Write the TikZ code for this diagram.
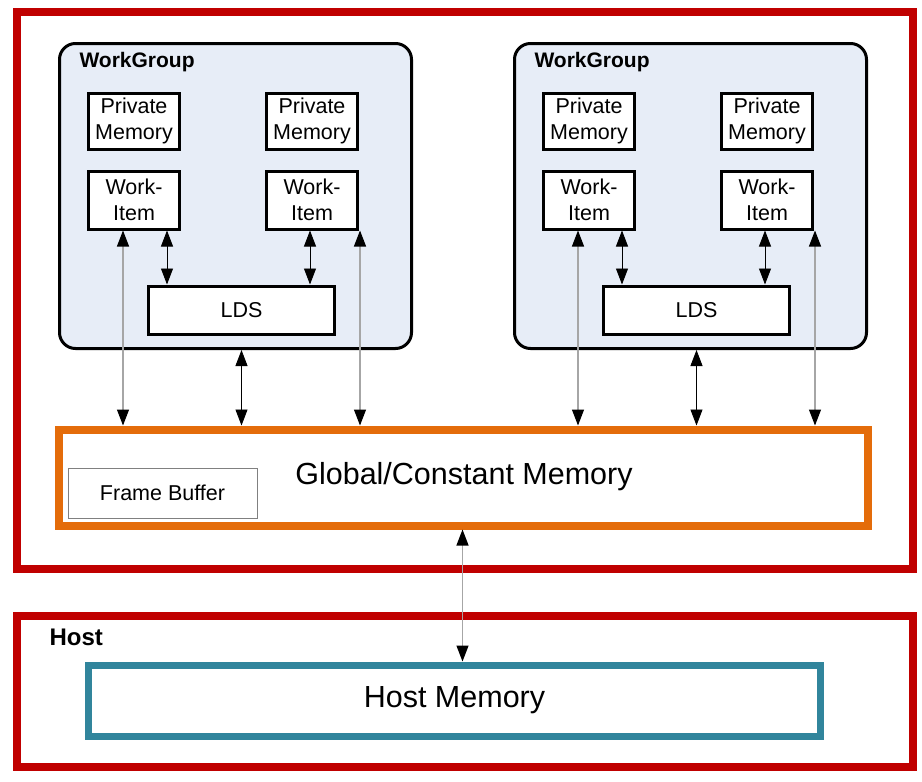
\documentclass[tikz,border=0pt]{standalone}
\usepackage{fontspec}
\setmainfont{Liberation Sans}
\usepackage{tikz}
\usetikzlibrary{arrows.meta,positioning,calc}

\definecolor{devred}{HTML}{C00000}
\definecolor{globorange}{HTML}{E46C0A}
\definecolor{hostteal}{HTML}{31859C}
\definecolor{wgblue}{HTML}{E7EDF7}
\definecolor{linkgray}{HTML}{A6A6A6}

\tikzset{
  membox/.style={draw, line width=3pt, fill=white, inner sep=0pt,
    minimum width=91pt, minimum height=56pt, align=center,
    font=\fontsize{21.5}{26}\selectfont},
  wgbox/.style={draw, line width=3pt, fill=wgblue, rounded corners=16pt, inner sep=0pt,
    minimum width=352pt, minimum height=305pt},
  ldsbox/.style={draw, line width=3pt, fill=white, inner sep=0pt,
    minimum width=186pt, minimum height=48pt, font=\fontsize{21.5}{26}\selectfont},
  wglabel/.style={anchor=west, font=\fontsize{21}{26}\selectfont\bfseries},
  tip/.tip={Triangle[black, length=16pt, width=12pt]},
  near/.style={tip-tip, black, line width=0.9pt},
  far/.style={tip-tip, linkgray, line width=1.2pt}
}

\begin{document}
\begin{tikzpicture}[x=1pt, y=-1pt]
  \useasboundingbox (0,0) rectangle (922,782);
  % device and host frames
  \draw[devred, line width=8pt] (17,12) rectangle (913,569);
  \draw[devred, line width=8pt] (17,616) rectangle (913,767);
  \node[wglabel, font=\fontsize{24}{28}\selectfont\bfseries] (hostlbl) at (46,637) {Host};

  % global memory
  \node[draw=globorange, line width=8pt, fill=white, minimum width=809pt, minimum height=96pt,
    inner sep=0pt] (glob) at (463.5,477.5) {};
  \node[font=\fontsize{30.5}{36}\selectfont] (globtxt) at (464,477) {Global/Constant Memory};
  \node[draw=gray, line width=0.8pt, minimum width=189pt, minimum height=50pt, inner sep=0pt,
    font=\fontsize{21.5}{26}\selectfont] (fb) at (162.5,493) {Frame Buffer};

  % host memory
  \node[draw=hostteal, line width=7pt, minimum width=732pt, minimum height=71pt, inner sep=0pt,
    font=\fontsize{30.5}{36}\selectfont] (hostmem) at (454.5,700.5) {Host Memory};

  % work groups
  \foreach \g/\x in {a/0, b/455} {
    \node[wgbox] (wg\g) at ({235.5+\x},196) {};
    \node[wglabel] (wgl\g) at ({76+\x},62) {WorkGroup};
    \node[membox] (pm\g1) at ({134+\x},121) {Private\\Memory};
    \node[membox] (pm\g2) at ({312+\x},121) {Private\\Memory};
    \node[membox, minimum height=58pt] (wi\g1) at ({134+\x},200) {Work-\\Item};
    \node[membox, minimum height=58pt] (wi\g2) at ({312+\x},200) {Work-\\Item};
    \node[ldsbox] (lds\g) at ({241.5+\x},310) {LDS};
    % work-item <-> lds
    \draw[near] ([xshift=33pt]wi\g1.south) -- ([xshift=33pt]wi\g1.south |- lds\g.north);
    \draw[near] ([xshift=-2pt]wi\g2.south) -- ([xshift=-2pt]wi\g2.south |- lds\g.north);
    % work-item <-> global
    \draw[far] ([xshift=-11pt]wi\g1.south) -- ([xshift=-11pt]wi\g1.south |- glob.north);
    \draw[far] ([xshift=48pt]wi\g2.south) -- ([xshift=48pt]wi\g2.south |- glob.north);
    % work group <-> global
    \draw[near] (lds\g.south |- wg\g.south) -- (lds\g.south |- glob.north);
  }

  % global <-> host
  \draw[far] ([xshift=-1pt]glob.south) -- ([xshift=-1pt]glob.south |- hostmem.north);
\end{tikzpicture}
\end{document}
